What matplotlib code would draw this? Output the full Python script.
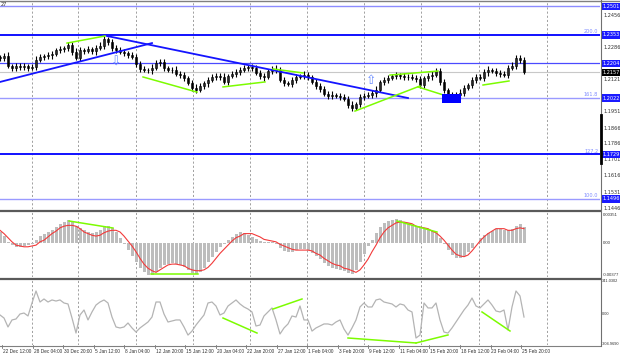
import matplotlib
matplotlib.use('Agg')
import matplotlib.pyplot as plt
from matplotlib.patches import Rectangle
import numpy as np

# ---------------- data ----------------
first_open = 1.2238
closes = [
    1.2232, 1.2243, 1.2191, 1.2180, 1.2191, 1.2185, 1.2191, 1.2180, 1.2185, 1.2222, 1.2238, 1.2243,
    1.2248, 1.2253, 1.2274, 1.2279, 1.2284, 1.2300, 1.2264, 1.2232, 1.2274, 1.2269, 1.2279, 1.2269,
    1.2284, 1.2295, 1.2331, 1.2316, 1.2284, 1.2274, 1.2264, 1.2258, 1.2248, 1.2238, 1.2201, 1.2175,
    1.2170, 1.2170, 1.2180, 1.2206, 1.2212, 1.2180, 1.2170, 1.2170, 1.2149, 1.2144, 1.2128, 1.2102,
    1.2076, 1.2065, 1.2086, 1.2102, 1.2117, 1.2133, 1.2138, 1.2133, 1.2107, 1.2138, 1.2149, 1.2159,
    1.2170, 1.2180, 1.2185, 1.2180, 1.2154, 1.2138, 1.2133, 1.2165, 1.2175, 1.2170, 1.2117, 1.2102,
    1.2097, 1.2117, 1.2133, 1.2138, 1.2144, 1.2133, 1.2107, 1.2086, 1.2071, 1.2044, 1.2034, 1.2039,
    1.2034, 1.2029, 1.2019, 1.1987, 1.1971, 1.1992, 1.2029, 1.2034, 1.2039, 1.2050, 1.2065, 1.2107,
    1.2117, 1.2128, 1.2138, 1.2144, 1.2138, 1.2133, 1.2133, 1.2128, 1.2123, 1.2091, 1.2128, 1.2138,
    1.2144, 1.2165, 1.2107, 1.2065, 1.2039, 1.2029, 1.2039, 1.2050, 1.2076, 1.2091, 1.2117, 1.2133,
    1.2128, 1.2159, 1.2170, 1.2165, 1.2154, 1.2149, 1.2144, 1.2180, 1.2191, 1.2232, 1.2222, 1.2159,
]
up_wick_pips = [
    12, 16, 22, 10, 14, 13, 17, 11, 15, 19, 13, 10,
    14, 17, 11, 15, 13, 18, 14, 20, 15, 11, 14, 13,
    16, 19, 16, 11, 14, 18, 13, 15, 10, 14, 17, 13,
    15, 11, 19, 14, 13, 17, 11, 15, 18, 14, 13, 10,
    15, 19, 14, 11, 17, 13, 15, 14, 20, 11, 13, 17,
    14, 15, 11, 18, 13, 14, 17, 11, 15, 20, 13, 14,
    11, 17, 15, 13, 18, 14, 11, 15, 13, 17, 14, 19,
    11, 15, 13, 14, 18, 11, 17, 14, 13, 15, 19, 11,
    14, 17, 13, 15, 11, 18, 14, 13, 17, 15, 11, 14,
    19, 13, 15, 17, 11, 14, 13, 18, 15, 11, 14, 17,
    13, 15, 19, 11, 14, 17, 13, 15, 19, 16, 14, 13,
]
dn_wick_pips = [
    13, 14, 11, 17, 15, 13, 18, 14, 11, 15, 13, 17,
    14, 19, 11, 15, 13, 14, 18, 11, 17, 14, 13, 15,
    19, 11, 14, 17, 13, 15, 11, 18, 14, 13, 17, 15,
    11, 14, 19, 13, 15, 17, 11, 14, 13, 18, 15, 11,
    14, 17, 13, 15, 19, 11, 14, 17, 13, 15, 11, 18,
    14, 13, 17, 15, 11, 14, 19, 13, 15, 17, 11, 14,
    13, 18, 15, 11, 14, 17, 13, 15, 19, 11, 14, 17,
    13, 15, 11, 18, 14, 13, 17, 15, 11, 14, 19, 13,
    15, 17, 11, 14, 13, 18, 15, 11, 14, 17, 13, 15,
    19, 11, 14, 17, 13, 15, 11, 18, 14, 13, 17, 15,
    11, 14, 19, 13, 15, 17, 11, 14, 13, 18, 15, 11,
]
macd_main = [
    0.0014, 0.0009, 0.0002, -0.0002, -0.0004, -0.0004, -0.0003, -0.0002, -0.0001, 0.0004, 0.0009, 0.0012,
    0.0014, 0.0016, 0.0020, 0.0024, 0.0026, 0.0029, 0.0026, 0.0021, 0.0019, 0.0016, 0.0014, 0.0013,
    0.0014, 0.0016, 0.0021, 0.0021, 0.0019, 0.0014, 0.0007, -0.0001, -0.0008, -0.0015, -0.0022, -0.0030,
    -0.0035, -0.0038, -0.0038, -0.0035, -0.0030, -0.0026, -0.0025, -0.0024, -0.0025, -0.0026, -0.0029, -0.0032,
    -0.0036, -0.0037, -0.0035, -0.0030, -0.0022, -0.0016, -0.0010, -0.0004, -0.0001, 0.0004, 0.0008, 0.0012,
    0.0014, 0.0013, 0.0010, 0.0008, 0.0005, 0.0003, 0.0002, 0.0002, 0.0002, -0.0001, -0.0005, -0.0009,
    -0.0010, -0.0010, -0.0008, -0.0007, -0.0007, -0.0008, -0.0012, -0.0015, -0.0019, -0.0024, -0.0027, -0.0030,
    -0.0031, -0.0032, -0.0033, -0.0036, -0.0037, -0.0032, -0.0022, -0.0013, -0.0003, 0.0004, 0.0013, 0.0020,
    0.0025, 0.0027, 0.0029, 0.0030, 0.0029, 0.0026, 0.0025, 0.0022, 0.0021, 0.0019, 0.0018, 0.0016,
    0.0015, 0.0013, 0.0007, -0.0001, -0.0008, -0.0014, -0.0018, -0.0018, -0.0015, -0.0010, -0.0005, 0.0001,
    0.0007, 0.0010, 0.0013, 0.0015, 0.0018, 0.0018, 0.0016, 0.0016, 0.0018, 0.0021, 0.0024, 0.0020,
]
macd_signal = [
    0.0016, 0.0012, 0.0007, 0.0002, -0.0002, -0.0003, -0.0004, -0.0004, -0.0003, -0.0002, 0.0002, 0.0004,
    0.0008, 0.0012, 0.0015, 0.0019, 0.0021, 0.0022, 0.0022, 0.0021, 0.0018, 0.0014, 0.0012, 0.0010,
    0.0009, 0.0010, 0.0013, 0.0015, 0.0016, 0.0016, 0.0014, 0.0009, 0.0003, -0.0003, -0.0010, -0.0018,
    -0.0025, -0.0030, -0.0033, -0.0035, -0.0032, -0.0029, -0.0026, -0.0025, -0.0025, -0.0026, -0.0027, -0.0030,
    -0.0032, -0.0033, -0.0033, -0.0032, -0.0029, -0.0024, -0.0018, -0.0012, -0.0007, -0.0002, 0.0003, 0.0007,
    0.0009, 0.0012, 0.0012, 0.0012, 0.0010, 0.0008, 0.0005, 0.0004, 0.0003, 0.0002, -0.0001, -0.0003,
    -0.0005, -0.0007, -0.0008, -0.0008, -0.0008, -0.0008, -0.0009, -0.0012, -0.0014, -0.0018, -0.0021, -0.0024,
    -0.0026, -0.0027, -0.0030, -0.0031, -0.0033, -0.0035, -0.0032, -0.0026, -0.0019, -0.0010, -0.0002, 0.0007,
    0.0014, 0.0019, 0.0022, 0.0025, 0.0026, 0.0026, 0.0025, 0.0024, 0.0021, 0.0020, 0.0019, 0.0018,
    0.0015, 0.0013, 0.0009, 0.0004, -0.0002, -0.0008, -0.0013, -0.0015, -0.0016, -0.0014, -0.0009, -0.0003,
    0.0003, 0.0008, 0.0012, 0.0015, 0.0018, 0.0018, 0.0018, 0.0016, 0.0016, 0.0018, 0.0019, 0.0018,
]
cci = [
    -7, -38, -130, -58, -48, 3, 13, -17, 116, 239, 126, 157,
    126, 147, 136, 147, 116, 106, -38, -192, -7, 44, -58, 24,
    95, 126, 147, 116, -28, -130, -140, -130, -89, -140, -182, -140,
    -110, -79, -28, 126, 126, 3, -79, -69, -58, -58, -130, -213,
    -172, -110, -58, -7, 116, 126, 85, -7, 13, 85, 116, 147,
    106, 75, 54, 24, -120, -110, -17, 24, 65, -58, -202, -140,
    -99, -17, -28, 85, -58, -58, -172, -140, -120, -99, -99, -110,
    -79, -58, -151, -213, -140, -58, 75, 116, 75, 75, 147, 157,
    126, 116, 106, 75, 106, 95, 44, 24, -243, -213, 116, 65,
    65, 116, -58, -182, -192, -140, -79, -17, 44, 95, 167, 85,
    65, 106, 147, 95, 34, 24, 44, -161, 75, 239, 188, -28,
]
date_labels = ["22 Dec 12:00", "28 Dec 04:00", "30 Dec 20:00", "5 Jan 12:00", "8 Jan 04:00",
               "12 Jan 20:00", "15 Jan 12:00", "20 Jan 04:00", "22 Jan 20:00", "27 Jan 12:00",
               "1 Feb 04:00", "3 Feb 20:00", "9 Feb 12:00", "11 Feb 04:00", "15 Feb 20:00",
               "18 Feb 12:00", "23 Feb 04:00", "25 Feb 20:00"]
price_ticks = [1.2456, 1.2286, 1.2121, 1.1951, 1.1866, 1.1786, 1.1701, 1.1616, 1.1531, 1.1446]
level_prices = [1.2501, 1.2353, 1.2204, 1.2022, 1.1729, 1.1496]
level_styles = [('#8c8cff', 1.0), ('#1010ff', 1.4), ('#4a4aff', 0.9),
                ('#9a9aff', 1.0), ('#1010ff', 1.4), ('#9a9aff', 1.0)]
fibo_levels = {"200.0": 1.2353, "161.8": 1.2022, "127.2": 1.1729, "100.0": 1.1496}
current_price = 1.2157
macd_ticks = [0.00351, 0.0, -0.00377]
macd_tick_labels = ["0.00351", "0.00", "-0.00377"]
cci_ticks = [341.0302, 0.0, -304.969]
cci_tick_labels = ["341.0302", "0.00", "-304.9690"]

# trendlines / divergence annotations (bar index, value)
blue_lines = [((0, 1.2107), (38, 1.2310)), ((26.75, 1.2347), (102, 1.2023))]
green_main = [((16.75, 1.2310), (26.25, 1.2347)), ((35.75, 1.2133), (49.25, 1.2054)),
              ((55.75, 1.2081), (66.25, 1.2107)), ((68.25, 1.2175), (75.75, 1.2154)),
              ((88.75, 1.1955), (105, 1.2086)), ((97.5, 1.2143), (109.5, 1.2164)),
              ((104.5, 1.2081), (112.5, 1.2028)), ((120.75, 1.2091), (127.25, 1.2112))]
green_macd = [((17.25, 0.00273), (28.25, 0.00188)), ((37.75, -0.0037), (49.5, -0.0037)),
              ((99.25, 0.00273), (109.25, 0.00139))]
green_cci = [((55.75, -38), (64.25, -192)), ((68.25, 54), (75.5, 157)),
             ((87, -243), (104, -294)), ((104, -294), (112, -212)),
             ((120.5, 24), (127.5, -171))]
zone_box = (110.5, 1.1997, 4.75, 0.0047)
arrows = [("\u21e9", 29, 1.2211), ("\u21e7", 92.75, 1.2112)]

# ---------------- figure ----------------
W, H = 620, 357
fig = plt.figure(figsize=(W / 100, H / 100), dpi=100)
fig.patch.set_facecolor('white')
NARROW = ['Liberation Sans Narrow', 'Liberation Sans', 'DejaVu Sans']

def add_ax(x0, y0, x1, y1):
    return fig.add_axes([x0 / W, 1 - y1 / H, (x1 - x0) / W, (y1 - y0) / H])

ax = add_ax(0, 1, 600, 209)
axm = add_ax(0, 212, 600, 277)
axc = add_ax(0, 280, 600, 345)

n = len(closes)
idx = np.arange(n)
cl = np.array(closes)
op = np.array([first_open] + closes[:-1])
hi = np.maximum(op, cl) + np.array(up_wick_pips) * 0.0001
lo = np.minimum(op, cl) - np.array(dn_wick_pips) * 0.0001

gridx = [8, 19.5, 34, 48.25, 62.5, 76.75, 91, 105.25, 119.75, 136.75]
for a in (ax, axm, axc):
    a.set_xlim(0, 150)
    a.set_xticks([])
    a.set_yticks([])
    for s in a.spines.values():
        s.set_visible(False)
    for gx in gridx:
        a.axvline(gx, color='#909090', lw=0.6, ls=(0, (2.5, 2.5)), zorder=0)

# main panel
ax.set_ylim(1.14436, 1.25297)
for p, (c, lw) in zip(level_prices, level_styles):
    ax.axhline(p, color=c, lw=lw, zorder=1)
ax.axhline(current_price, color='#c8c8c8', lw=0.8, zorder=1)

ax.vlines(idx, lo, hi, color='black', lw=0.8, zorder=3)
bull = cl >= op
ax.bar(idx, cl - op, bottom=op, width=0.55,
       color=np.where(bull, '#2a2a2a', 'black'), edgecolor='black', lw=0.4, zorder=4)

for (x0, y0), (x1, y1) in blue_lines:
    ax.plot([x0, x1], [y0, y1], color='#1414ff', lw=1.3, zorder=5)
for (x0, y0), (x1, y1) in green_main:
    ax.plot([x0, x1], [y0, y1], color='#7cfc00', lw=1.1, zorder=5)
ax.add_patch(Rectangle(zone_box[:2], zone_box[2], zone_box[3], fc='#0000ff', ec='none', zorder=6))
for ch, xa, ya in arrows:
    ax.text(xa, ya, ch, color='#6a8cff', fontsize=9, ha='center', va='center',
            family='DejaVu Sans', zorder=6)

ytr = ax.get_yaxis_transform()
for p in price_ticks:
    ax.text(1.006, p, f"{p:.4f}", transform=ytr, fontsize=3.6, color='#303030',
            va='center', ha='left', clip_on=False)
for p in level_prices:
    ax.text(1.004, p, f"{p:.4f}", transform=ytr, fontsize=3.6, color='white',
            va='center', ha='left', clip_on=False,
            bbox=dict(boxstyle='square,pad=0.25', fc='#1a1aff', ec='none'))
ax.text(1.004, current_price, f"{current_price:.4f}", transform=ytr, fontsize=3.6,
        color='white', va='center', ha='left', clip_on=False,
        bbox=dict(boxstyle='square,pad=0.25', fc='black', ec='none'))
for lab, p in fibo_levels.items():
    ax.text(0.997, p + 0.0004, lab, transform=ytr, fontsize=3.6, color='#7f8cff',
            va='bottom', ha='right')

# MACD panel
axm.set_ylim(-0.004064, 0.003821)
axm.bar(idx, macd_main, width=0.75, color='#bdbdbd', zorder=2)
axm.plot(idx, macd_signal, color='#f23a3a', lw=0.8, zorder=3)
for (x0, y0), (x1, y1) in green_macd:
    axm.plot([x0, x1], [y0, y1], color='#7cfc00', lw=1.1, zorder=4)
ytm = axm.get_yaxis_transform()
for v, lab in zip(macd_ticks, macd_tick_labels):
    axm.text(1.004, v, lab, transform=ytm, fontsize=3.1, color='#303030',
             va='center', ha='left', clip_on=False, family=NARROW)

# CCI panel
axc.set_ylim(-314.7, 351.6)
axc.plot(idx, cci, color='#b4b4b4', lw=0.9, zorder=2)
for (x0, y0), (x1, y1) in green_cci:
    axc.plot([x0, x1], [y0, y1], color='#7cfc00', lw=1.1, zorder=3)
ytc = axc.get_yaxis_transform()
for v, lab in zip(cci_ticks, cci_tick_labels):
    axc.text(1.003, v, lab, transform=ytc, fontsize=2.8, color='#303030',
             va='center', ha='left', clip_on=False, family=NARROW)

# date labels under the lowest panel
xtr = axc.get_xaxis_transform()
label_pos = 0.75 + 7.63 * np.arange(len(date_labels))
for xp, lab in zip(label_pos, date_labels):
    axc.text(xp, -0.095, lab, transform=xtr, fontsize=3.4, color='#303030',
             ha='left', va='center', clip_on=False, family=NARROW)
    axc.plot([xp - 0.2, xp - 0.2], [0, -0.04], transform=xtr, color='#505050',
             lw=0.5, clip_on=False)

# frame lines (figure pixel coords)
def fline(x0, y0, x1, y1, **kw):
    fig.add_artist(plt.Line2D([x0 / W, x1 / W], [1 - y0 / H, 1 - y1 / H], **kw))

fline(0, 0.6, 620, 0.6, color='#808080', lw=1.0)
fline(0, 210.5, 600, 210.5, color='#5a5a5a', lw=1.6)
fline(0, 278.5, 600, 278.5, color='#5a5a5a', lw=1.6)
fline(0, 345.5, 600, 345.5, color='#808080', lw=0.8)
fline(600.5, 0, 600.5, 346, color='#707070', lw=0.8)
fline(600.5, 115, 600.5, 163, color='black', lw=2.0)

fig.text(1 / W, 1 - 4 / H, "27", fontsize=3.6, color='#303030', ha='left', va='center')

fig.savefig('out.png', dpi=100, facecolor='white')
